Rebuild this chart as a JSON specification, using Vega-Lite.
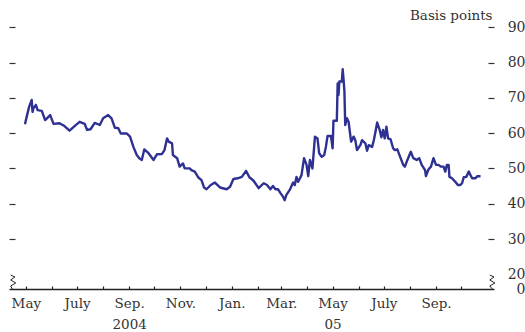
{
  "$schema": "https://vega.github.io/schema/vega-lite/v6.json",
  "width": 485,
  "height": 269,
  "autosize": {"type": "none"},
  "padding": {"left": 9, "top": 20, "right": 31, "bottom": 43},
  "background": "white",
  "config": {"view": {"stroke": null}, "font": "DejaVu Serif"},
  "datasets": {
    "series": [
      {"date":"2004-04-30","bp":62.5},{"date":"2004-05-02","bp":64.6},{"date":"2004-05-05","bp":67.5},{"date":"2004-05-08","bp":69.4},{"date":"2004-05-09","bp":66},{"date":"2004-05-10","bp":67},{"date":"2004-05-13","bp":68},{"date":"2004-05-15","bp":66.5},{"date":"2004-05-20","bp":66.3},{"date":"2004-05-24","bp":63.7},{"date":"2004-05-30","bp":65.1},
      {"date":"2004-06-03","bp":62.6},{"date":"2004-06-10","bp":62.8},{"date":"2004-06-16","bp":62},{"date":"2004-06-22","bp":60.7},{"date":"2004-06-28","bp":62},
      {"date":"2004-07-04","bp":63.2},{"date":"2004-07-10","bp":62.6},{"date":"2004-07-13","bp":60.9},{"date":"2004-07-17","bp":61.1},{"date":"2004-07-22","bp":62.9},{"date":"2004-07-28","bp":62.3},
      {"date":"2004-08-01","bp":64.2},{"date":"2004-08-07","bp":65.1},{"date":"2004-08-11","bp":64.2},{"date":"2004-08-15","bp":61.5},{"date":"2004-08-19","bp":61.4},{"date":"2004-08-22","bp":59.9},{"date":"2004-08-29","bp":59.9},
      {"date":"2004-09-02","bp":59},{"date":"2004-09-06","bp":56.1},{"date":"2004-09-10","bp":53.8},{"date":"2004-09-13","bp":52.9},{"date":"2004-09-16","bp":52.4},{"date":"2004-09-19","bp":55.4},{"date":"2004-09-24","bp":54.3},{"date":"2004-09-30","bp":52.4},
      {"date":"2004-10-04","bp":54},{"date":"2004-10-10","bp":54.1},{"date":"2004-10-13","bp":55.2},{"date":"2004-10-16","bp":58.5},{"date":"2004-10-18","bp":57.6},{"date":"2004-10-22","bp":57.1},{"date":"2004-10-23","bp":53.8},{"date":"2004-10-28","bp":52.9},{"date":"2004-10-31","bp":50.5},
      {"date":"2004-11-04","bp":51.4},{"date":"2004-11-06","bp":50},{"date":"2004-11-12","bp":50},{"date":"2004-11-14","bp":49.5},{"date":"2004-11-18","bp":49.1},{"date":"2004-11-22","bp":47.5},{"date":"2004-11-26","bp":46.7},{"date":"2004-11-29","bp":44.6},
      {"date":"2004-12-02","bp":44.1},{"date":"2004-12-07","bp":45.3},{"date":"2004-12-12","bp":46},{"date":"2004-12-18","bp":44.6},{"date":"2004-12-26","bp":44.1},{"date":"2004-12-30","bp":44.8},
      {"date":"2005-01-03","bp":47},{"date":"2005-01-08","bp":47.2},{"date":"2005-01-13","bp":47.6},{"date":"2005-01-18","bp":49.3},{"date":"2005-01-22","bp":47.5},{"date":"2005-01-27","bp":46.5},
      {"date":"2005-02-02","bp":44.4},{"date":"2005-02-08","bp":45.8},{"date":"2005-02-12","bp":45.3},{"date":"2005-02-16","bp":44.1},{"date":"2005-02-19","bp":45},{"date":"2005-02-22","bp":44.1},{"date":"2005-02-25","bp":44.1},{"date":"2005-02-28","bp":43},
      {"date":"2005-03-03","bp":42},{"date":"2005-03-05","bp":41},{"date":"2005-03-07","bp":42.5},{"date":"2005-03-11","bp":43.9},{"date":"2005-03-15","bp":46},{"date":"2005-03-17","bp":45.3},{"date":"2005-03-19","bp":47.6},{"date":"2005-03-21","bp":46.2},{"date":"2005-03-25","bp":48.1},{"date":"2005-03-28","bp":52.9},{"date":"2005-03-31","bp":51},
      {"date":"2005-04-02","bp":47.8},{"date":"2005-04-04","bp":52.4},{"date":"2005-04-07","bp":50},{"date":"2005-04-10","bp":59},{"date":"2005-04-13","bp":58.5},{"date":"2005-04-15","bp":54.3},{"date":"2005-04-18","bp":53.3},{"date":"2005-04-21","bp":53.8},{"date":"2005-04-23","bp":56.1},{"date":"2005-04-25","bp":59.2},{"date":"2005-04-29","bp":59.2},
      {"date":"2005-05-01","bp":55.7},{"date":"2005-05-02","bp":63.5},{"date":"2005-05-06","bp":63.5},{"date":"2005-05-07","bp":74.1},{"date":"2005-05-08","bp":70.8},{"date":"2005-05-09","bp":74.6},{"date":"2005-05-12","bp":74.6},{"date":"2005-05-13","bp":78.1},{"date":"2005-05-15","bp":72.2},{"date":"2005-05-16","bp":62.3},{"date":"2005-05-18","bp":64.2},{"date":"2005-05-20","bp":63.2},{"date":"2005-05-23","bp":57.6},{"date":"2005-05-26","bp":59},{"date":"2005-05-28","bp":58},{"date":"2005-05-30","bp":55.2},
      {"date":"2005-06-03","bp":56.6},{"date":"2005-06-05","bp":58},{"date":"2005-06-09","bp":57.1},{"date":"2005-06-11","bp":55},{"date":"2005-06-13","bp":56.6},{"date":"2005-06-17","bp":56.1},{"date":"2005-06-19","bp":58},{"date":"2005-06-21","bp":60.4},{"date":"2005-06-23","bp":63},{"date":"2005-06-26","bp":60.9},{"date":"2005-06-28","bp":58.8},{"date":"2005-06-30","bp":60.9},
      {"date":"2005-07-02","bp":58.5},{"date":"2005-07-04","bp":61.8},{"date":"2005-07-06","bp":58.5},{"date":"2005-07-09","bp":58.2},{"date":"2005-07-12","bp":55.7},{"date":"2005-07-14","bp":55.2},{"date":"2005-07-17","bp":55.4},{"date":"2005-07-20","bp":53.5},{"date":"2005-07-24","bp":51},{"date":"2005-07-26","bp":50.5},{"date":"2005-07-29","bp":52.4},
      {"date":"2005-08-02","bp":54.7},{"date":"2005-08-05","bp":52.9},{"date":"2005-08-09","bp":52.4},{"date":"2005-08-12","bp":52.9},{"date":"2005-08-15","bp":51},{"date":"2005-08-19","bp":49.5},{"date":"2005-08-20","bp":47.8},{"date":"2005-08-23","bp":49.7},{"date":"2005-08-26","bp":50.5},{"date":"2005-08-29","bp":52.9},
      {"date":"2005-09-01","bp":51},{"date":"2005-09-04","bp":51},{"date":"2005-09-07","bp":50.5},{"date":"2005-09-10","bp":50.5},{"date":"2005-09-12","bp":49.1},{"date":"2005-09-14","bp":51},{"date":"2005-09-16","bp":51},{"date":"2005-09-17","bp":47.6},{"date":"2005-09-20","bp":47.2},{"date":"2005-09-24","bp":46.2},{"date":"2005-09-27","bp":45.3},{"date":"2005-09-30","bp":45.3},
      {"date":"2005-10-02","bp":45.8},{"date":"2005-10-04","bp":47.5},{"date":"2005-10-07","bp":47.6},{"date":"2005-10-10","bp":49.1},{"date":"2005-10-12","bp":48.1},{"date":"2005-10-14","bp":47.2},{"date":"2005-10-18","bp":47.2},{"date":"2005-10-20","bp":47.8},{"date":"2005-10-24","bp":47.8}
    ],
    "brk": [
      {"side":"L","i":0,"date":"2004-04-13","bp":19.8},{"side":"L","i":1,"date":"2004-04-18","bp":19.24},{"side":"L","i":2,"date":"2004-04-13","bp":18.4},{"side":"L","i":3,"date":"2004-04-19","bp":17.54},{"side":"L","i":4,"date":"2004-04-13","bp":16.7},{"side":"L","i":5,"date":"2004-04-15","bp":15.84},
      {"side":"R","i":0,"date":"2005-11-04","bp":19.8},{"side":"R","i":1,"date":"2005-11-09","bp":19.24},{"side":"R","i":2,"date":"2005-11-04","bp":18.4},{"side":"R","i":3,"date":"2005-11-10","bp":17.54},{"side":"R","i":4,"date":"2005-11-04","bp":16.7},{"side":"R","i":5,"date":"2005-11-07","bp":15.84}
    ]
  },
  "layer": [
    {
      "data": {"name": "series"},
      "mark": {"type": "line", "color": "#2e3192", "strokeWidth": 2.4, "strokeJoin": "round"},
      "encoding": {
        "x": {
          "field": "date", "type": "temporal",
          "scale": {"type": "utc", "domain": [{"year": 2004, "month": 4, "date": 11, "utc": true}, {"year": 2005, "month": 11, "date": 9, "utc": true}]},
          "axis": {
            "title": null,
            "values": [
              {"year":2004,"month":5,"date":1,"utc":true},{"year":2004,"month":6,"date":1,"utc":true},{"year":2004,"month":7,"date":1,"utc":true},{"year":2004,"month":8,"date":1,"utc":true},{"year":2004,"month":9,"date":1,"utc":true},{"year":2004,"month":10,"date":1,"utc":true},{"year":2004,"month":11,"date":1,"utc":true},{"year":2004,"month":12,"date":1,"utc":true},
              {"year":2005,"month":1,"date":1,"utc":true},{"year":2005,"month":2,"date":1,"utc":true},{"year":2005,"month":3,"date":1,"utc":true},{"year":2005,"month":4,"date":1,"utc":true},{"year":2005,"month":5,"date":1,"utc":true},{"year":2005,"month":6,"date":1,"utc":true},{"year":2005,"month":7,"date":1,"utc":true},{"year":2005,"month":8,"date":1,"utc":true},{"year":2005,"month":9,"date":1,"utc":true},{"year":2005,"month":10,"date":1,"utc":true}
            ],
            "labelExpr": "utcmonth(datum.value) == 4 ? (utcyear(datum.value) == 2005 ? ['May', '05'] : 'May') : utcmonth(datum.value) == 6 ? 'July' : utcmonth(datum.value) == 8 ? (utcyear(datum.value) == 2004 ? ['Sep.', '2004'] : 'Sep.') : utcmonth(datum.value) == 10 ? 'Nov.' : utcmonth(datum.value) == 0 ? 'Jan.' : utcmonth(datum.value) == 2 ? 'Mar.' : ''",
            "grid": false,
            "tickSize": -3, "tickColor": "#222", "tickWidth": 1.2,
            "domainColor": "#222", "domainWidth": 1.5,
            "labelPadding": 10, "labelFont": "DejaVu Serif", "labelFontSize": 13.5, "labelColor": "#333",
            "labelLineHeight": 21, "labelBaseline": "top", "labelOverlap": false, "labelBound": false, "labelFlush": false
          }
        },
        "y": {
          "field": "bp", "type": "quantitative",
          "scale": {"domain": [15.84, 92.04], "nice": false, "zero": false},
          "axis": {
            "orient": "right",
            "values": [15.84, 20, 30, 40, 50, 60, 70, 80, 90],
            "format": "d",
            "labelExpr": "datum.value < 17 ? '0' : datum.label",
            "grid": false, "domain": false,
            "tickSize": -6, "tickColor": "#333", "tickWidth": 1.2,
            "tickOpacity": {"condition": {"test": "datum.value < 25", "value": 0}, "value": 1},
            "labelAlign": "right", "labelPadding": 37, "labelBaseline": "middle",
            "labelFont": "DejaVu Serif", "labelFontSize": 14, "labelColor": "#333",
            "labelOverlap": false, "labelBound": false, "labelFlush": false,
            "title": "Basis points", "titleAngle": 0, "titleAlign": "right", "titleBaseline": "alphabetic",
            "titleX": -2, "titleY": -1, "titleFont": "DejaVu Serif", "titleFontSize": 13.5, "titleFontWeight": "normal", "titleColor": "#333"
          }
        }
      }
    },
    {
      "data": {"name": "brk"},
      "mark": {"type": "line", "color": "#222", "strokeWidth": 1, "clip": false},
      "encoding": {
        "x": {"field": "date", "type": "temporal", "axis": null},
        "y": {
          "field": "bp", "type": "quantitative",
          "axis": {
            "orient": "left", "values": [30, 40, 50, 60, 70, 80, 90], "labels": false,
            "grid": false, "domain": false, "title": null,
            "tickSize": -6, "tickColor": "#333", "tickWidth": 1.2
          }
        },
        "detail": {"field": "side"},
        "order": {"field": "i", "type": "quantitative"}
      }
    }
  ],
  "resolve": {"axis": {"x": "independent", "y": "independent"}}
}
